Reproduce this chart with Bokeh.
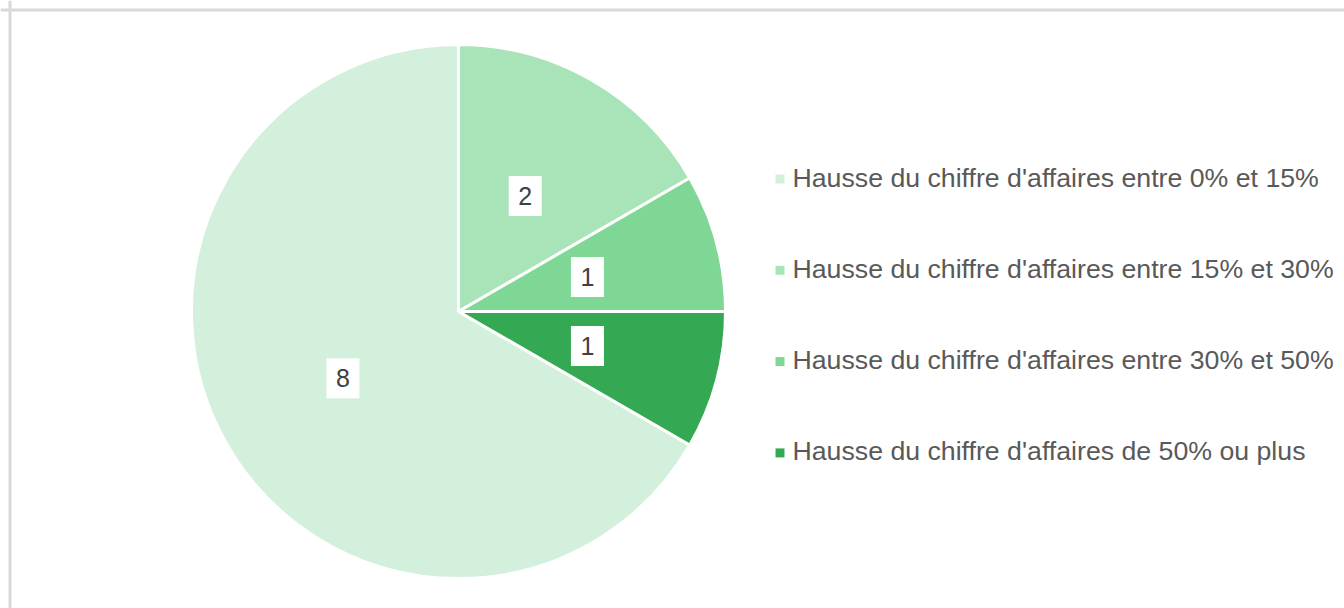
import math
from bokeh.plotting import figure
from bokeh.models import Range1d, Span, ColumnDataSource
from bokeh.core.properties import value
from bokeh.embed import file_html
from bokeh.resources import INLINE

# ---- data ----
categories = [
    "Hausse du chiffre d'affaires entre 0% et 15%",
    "Hausse du chiffre d'affaires entre 15% et 30%",
    "Hausse du chiffre d'affaires entre 30% et 50%",
    "Hausse du chiffre d'affaires de 50% ou plus",
]
counts = [8, 2, 1, 1]
colors = ["#d3f0dc", "#a8e4b8", "#7fd796", "#34a853"]
first_slice_angle_deg = 120  # clockwise from 12 o'clock

# ---- layout ----
W, H = 1344, 608
cx, cy, r = 458, 297, 267
FONT = "Liberation Sans"

p = figure(width=W, height=H, x_range=Range1d(0, W), y_range=Range1d(0, H),
           output_backend="svg", toolbar_location=None, min_border=0)
p.axis.visible = False
p.grid.visible = False
p.outline_line_color = None
p.background_fill_color = "white"
p.border_fill_color = "white"

total = sum(counts)
starts, ends, lx, ly, labels = [], [], [], [], []
acc = math.radians(first_slice_angle_deg)
for c in counts:
    span = 2 * math.pi * c / total
    a0, a1 = acc, acc + span
    starts.append(math.pi / 2 - a0)
    ends.append(math.pi / 2 - a1)
    mid = (a0 + a1) / 2
    lx.append(cx + 0.5 * r * math.sin(mid))
    ly.append(cy + 0.5 * r * math.cos(mid))
    labels.append(str(c))
    acc = a1

src = ColumnDataSource(dict(start=starts, end=ends, color=colors, lx=lx, ly=ly, label=labels))
p.wedge(x=cx, y=cy, radius=r, start_angle="start", end_angle="end", direction="clock",
        fill_color="color", line_color="white", line_width=3, source=src)

p.rect(x="lx", y="ly", width=33, height=40, width_units="screen", height_units="screen",
       fill_color="white", line_color=None, source=src)
p.text(x="lx", y="ly", text="label", text_align="center", text_baseline="middle",
       text_font=value(FONT), text_font_size="25px", text_color="#404040", source=src)

# ---- legend (manual) ----
leg_x, leg_top, pitch = 779.5, 429.5, 91.3
n = len(categories)
leg_y = [leg_top - i * pitch for i in range(n)]
lsrc = ColumnDataSource(dict(x=[leg_x] * n, tx=[792] * n, y=leg_y,
                             ty=[v + 1.5 for v in leg_y], color=colors, label=categories))
p.rect(x="x", y="y", width=9, height=9, width_units="screen", height_units="screen",
       fill_color="color", line_color=None, source=lsrc)
p.text(x="tx", y="ty", text="label", text_align="left", text_baseline="middle",
       text_font=value(FONT), text_font_size="26.7px", text_color="#595959", source=lsrc)

# ---- chart border (top and left visible) ----
p.add_layout(Span(location=9.5, dimension="height", line_color="#d9d9d9", line_width=3))
p.add_layout(Span(location=H - 9.5, dimension="width", line_color="#d9d9d9", line_width=3))

open("out.html", "w").write(file_html(p, INLINE))
